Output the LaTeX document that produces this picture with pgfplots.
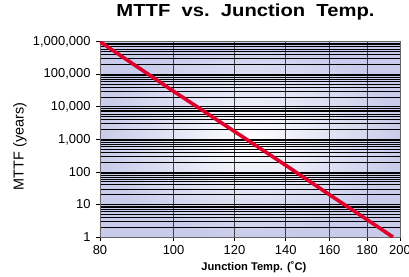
\documentclass[border=0pt]{standalone}
\usepackage{pgfplots}
\pgfplotsset{compat=1.18}
\usepackage{graphicx}
\usepackage{fontspec}
\setmainfont{Liberation Sans}
\definecolor{bgout}{RGB}{200,204,234}
\definecolor{mttfred}{RGB}{222,0,42}
\begin{document}
\begin{tikzpicture}
\begin{axis}[
  scale only axis,
  width=300bp, height=195.3bp,
  ymode=log,
  xmin=80, xmax=200,
  ymin=1, ymax=1000000,
  x coord trafo/.code={\pgfmathparse{-1000/(#1+112)}},
  x coord inv trafo/.code={\pgfmathparse{-1000/#1-112}},
  xtick={80,100,120,140,160,180,200},
  xticklabels={80,100,120,140,160,180,200},
  ytick={1,10,100,1000,10000,100000,1000000},
  yticklabels={1,10,100,{1,000},{10,000},{100,000},{1,000,000}},
  /pgf/number format/assume math mode=true,
  tick align=outside,
  xtick pos=bottom, ytick pos=left,
  major tick length=4bp,
  minor tick length=0pt,
  tick style={black, line width=0.6bp},
  axis line style={black!60, line width=0.6bp},
  xmajorgrids, ymajorgrids, yminorgrids,
  x grid style={black!75, line width=0.9bp},
  y grid style={black, line width=0.8bp},
  minor y grid style={black, line width=0.8bp},
  ticklabel style={font=\fontsize{13}{15}\selectfont},
  xticklabel style={yshift=-1bp},
  yticklabel style={xshift=-2bp},
  axis background/.style={inner color=white, outer color=bgout},
  title={\scalebox{1.16}[1]{\bfseries\fontsize{17.5}{20}\selectfont MTTF\ \ vs.\ \ Junction\ \ Temp.}},
  title style={at={(0.485,1)}, anchor=base, yshift=19bp},
  xlabel={\bfseries\fontsize{11.2}{13}\selectfont Junction Temp. (˚C)},
  xlabel style={at={(axis description cs:0.513,0)}, anchor=base, yshift=-33.5bp},
  ylabel={\fontsize{14.5}{17}\selectfont MTTF (years)},
  ylabel style={at={(axis description cs:-0.267,0.463)}, anchor=center, rotate=0},
]
\addplot[mttfred, line width=3.6bp] coordinates {
  (80,1000000) (100,30000) (120,1750) (140,160) (160,20) (180,3.4) (195.5,1)
};
\end{axis}
\pgfresetboundingbox
\path (-100bp,-40bp) rectangle (309bp,237bp);
\end{tikzpicture}
\end{document}
